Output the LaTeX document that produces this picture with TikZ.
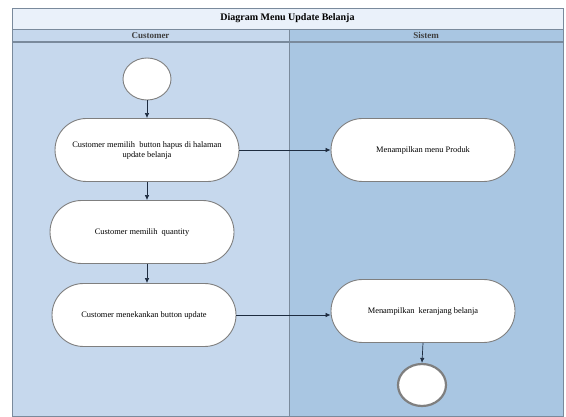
\documentclass[tikz,border=0pt]{standalone}
\usepackage{fontspec}
\setmainfont{Liberation Serif}
\usetikzlibrary{shapes.misc,shapes.geometric,arrows.meta}
\definecolor{titlebg}{HTML}{EAF1FA}
\definecolor{laneA}{HTML}{C6D8ED}
\definecolor{laneB}{HTML}{A9C6E2}
\definecolor{frame}{HTML}{7A8A9C}
\definecolor{flow}{HTML}{1E2C40}
\definecolor{nodeedge}{HTML}{7F7F7F}
\tikzset{
  activity/.style={rounded rectangle, draw=nodeedge, line width=0.9pt, fill=white,
    minimum width=188pt, minimum height=63pt, align=center,
    font=\fontsize{8.4}{10}\selectfont, inner sep=2pt},
  startstate/.style={ellipse, draw=nodeedge, line width=0.9pt, fill=white,
    minimum width=48pt, minimum height=42pt, inner sep=0pt},
  endstate/.style={ellipse, draw=nodeedge, line width=2.2pt, fill=white,
    minimum width=48pt, minimum height=42pt, inner sep=0pt},
  flowarrow/.style={draw=flow, line width=0.7pt, -{Latex[length=5pt,width=4.5pt]}},
  lanetitle/.style={font=\bfseries\fontsize{10}{12}\selectfont},
  lanehead/.style={font=\fontsize{9}{10}\selectfont\bfseries, text=black!75}
}
\begin{document}
\begin{tikzpicture}[x=1pt,y=-1pt]
\useasboundingbox (0,0) rectangle (566,417);
\fill[white] (0,0) rectangle (566,417);
% swimlanes
\fill[titlebg] (12,8) rectangle (563,29);
\fill[laneA] (12,29) rectangle (289,416);
\fill[laneB] (289,29) rectangle (563,416);
\draw[frame, line width=0.8pt] (12,8) rectangle (563,416);
\draw[frame, line width=0.8pt] (12,29) -- (563,29);
\draw[frame, line width=1.2pt] (12,42) -- (563,42);
\draw[frame, line width=0.8pt] (289,29) -- (289,416);
\node[lanetitle] (title) at (287.5,18.5) {Diagram Menu Update Belanja};
\node[lanehead] (laneCust) at (150.5,35.5) {Customer};
\node[lanehead] (laneSys) at (426,35.5) {Sistem};
% activities
\node[startstate] (start) at (147,79) {};
\node[activity] (a1) at (147,150) {Customer memilih\ \ button hapus di halaman\\update belanja};
\node[activity] (a2) at (142,232) {Customer memilih\ \ quantity};
\node[activity] (a3) at (144,315) {Customer menekankan button update};
\node[activity] (s1) at (423,150) {Menampilkan menu Produk};
\node[activity] (s2) at (423,311) {Menampilkan\ \ keranjang belanja};
\node[endstate] (end) at (422,385) {};
% flows
\draw[flowarrow] (start.south) -- (a1.north);
\draw[flowarrow] (a1.south) -- (a1.south |- a2.north);
\draw[flowarrow] (a1.south |- a2.south) -- (a1.south |- a3.north);
\draw[flowarrow] (a1.east) -- (s1.west);
\draw[flowarrow] (a3.east) -- (a3.east -| s2.west);
\draw[flowarrow] (s2.south) -- (end.north);
\end{tikzpicture}
\end{document}
